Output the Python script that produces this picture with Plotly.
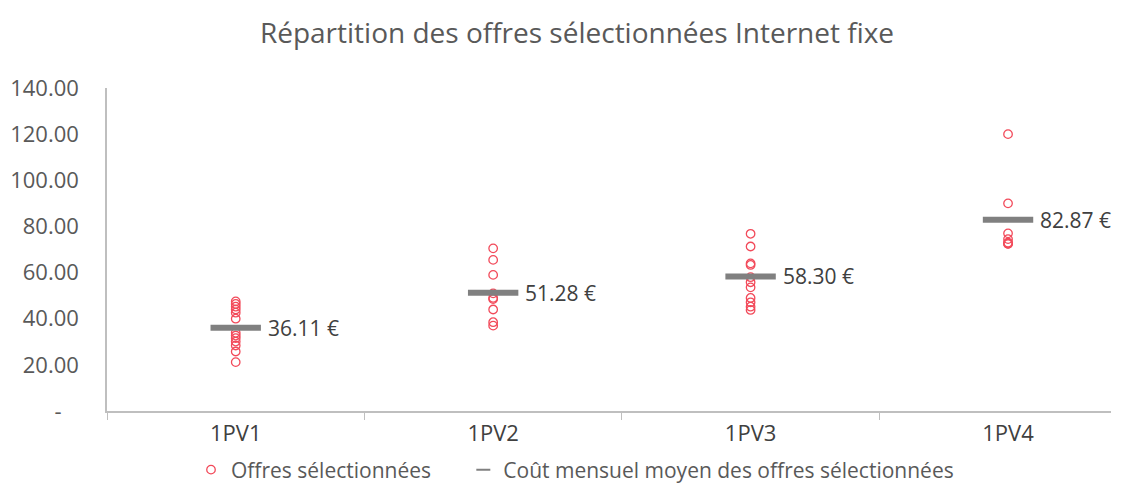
import plotly.graph_objects as go

categories = ["1PV1", "1PV2", "1PV3", "1PV4"]

offres_1pv1 = [47.5, 46.4, 45.2, 44.0, 42.6, 40.0, 33.9, 32.7, 31.6, 30.1, 28.4, 25.8, 21.2]
offres_1pv2 = [70.5, 65.5, 59.0, 51.0, 49.0, 48.5, 44.0, 38.5, 37.0]
offres_1pv3 = [76.8, 71.3, 64.0, 63.3, 58.0, 55.8, 53.6, 49.0, 47.1, 45.2, 43.8]
offres_1pv4 = [120.0, 90.0, 77.0, 74.5, 73.0, 72.5, 72.5]

moyennes = [36.11, 51.28, 58.30, 82.87]

y_tickvals = [0, 20, 40, 60, 80, 100, 120, 140]
y_ticktext = ["-\u00a0\u00a0\u00a0", "20.00", "40.00", "60.00", "80.00", "100.00", "120.00", "140.00"]

all_offres = [offres_1pv1, offres_1pv2, offres_1pv3, offres_1pv4]
xs, ys = [], []
for cat, vals in zip(categories, all_offres):
    xs += [cat] * len(vals)
    ys += vals

FONT = "Open Sans"
TXT = "#595959"
RED = "#f24a5a"
GREY = "#808080"

fig = go.Figure()
fig.add_trace(go.Scatter(
    x=xs, y=ys, mode="markers", name="Offres sélectionnées" + "\u00a0" * 5,
    marker=dict(symbol="circle-open", size=8.5, color=RED, line=dict(width=1.3, color=RED)),
))
# mean bars (legend shown through a proxy entry below)
fig.add_trace(go.Scatter(
    x=categories, y=moyennes, mode="markers", showlegend=False,
    name="Coût mensuel moyen des offres sélectionnées",
    marker=dict(symbol="line-ew", size=36, color=GREY, line=dict(width=6, color=GREY)),
))
fig.add_trace(go.Scatter(
    x=[None], y=[None], mode="markers",
    name="Coût mensuel moyen des offres sélectionnées",
    marker=dict(symbol="line-ew", size=10, color=GREY, line=dict(width=2, color=GREY)),
))

for cat, v in zip(categories, moyennes):
    fig.add_annotation(x=cat, y=v, text=f"{v:.2f}\u00a0€", showarrow=False,
                       xanchor="left", yanchor="middle", xshift=30,
                       font=dict(family=FONT, size=21, color="#404040"))

fig.update_layout(
    width=1121, height=483,
    margin=dict(l=107, r=10, t=88, b=72),
    paper_bgcolor="white", plot_bgcolor="white",
    title=dict(text="Répartition des offres sélectionnées Internet fixe",
               x=577 / 1121, xanchor="center", xref="container",
               y=1 - 33 / 483, yanchor="middle", yref="container",
               font=dict(family=FONT, size=28, color=TXT)),
    font=dict(family=FONT, size=21, color=TXT),
    showlegend=True,
    legend=dict(orientation="h", xref="container", yref="container",
                x=575 / 1121, xanchor="center", y=(483 - 470) / 483, yanchor="middle",
                font=dict(family=FONT, size=21, color=TXT), itemwidth=30,
                tracegroupgap=0),
)
fig.update_xaxes(
    type="category", range=[-0.5, 3.40], automargin=False,
    showline=True, linecolor="#bfbfbf", linewidth=1.5,
    ticks="outside", tickson="boundaries", ticklen=7, tickcolor="#bfbfbf",
    showgrid=False, zeroline=False,
    tickfont=dict(family=FONT, size=22, color="#404040"),
    ticklabelstandoff=2,
)
fig.update_yaxes(
    range=[0, 140], tickvals=y_tickvals, ticktext=y_ticktext, automargin=False,
    showline=True, linecolor="#bfbfbf", linewidth=1.5,
    ticks="", showgrid=False, zeroline=False,
    tickfont=dict(family=FONT, size=22, color=TXT),
    ticklabelstandoff=22,
)

fig.write_html("out.html", config={"displayModeBar": False},
               post_script="document.body.style.margin='0';")
